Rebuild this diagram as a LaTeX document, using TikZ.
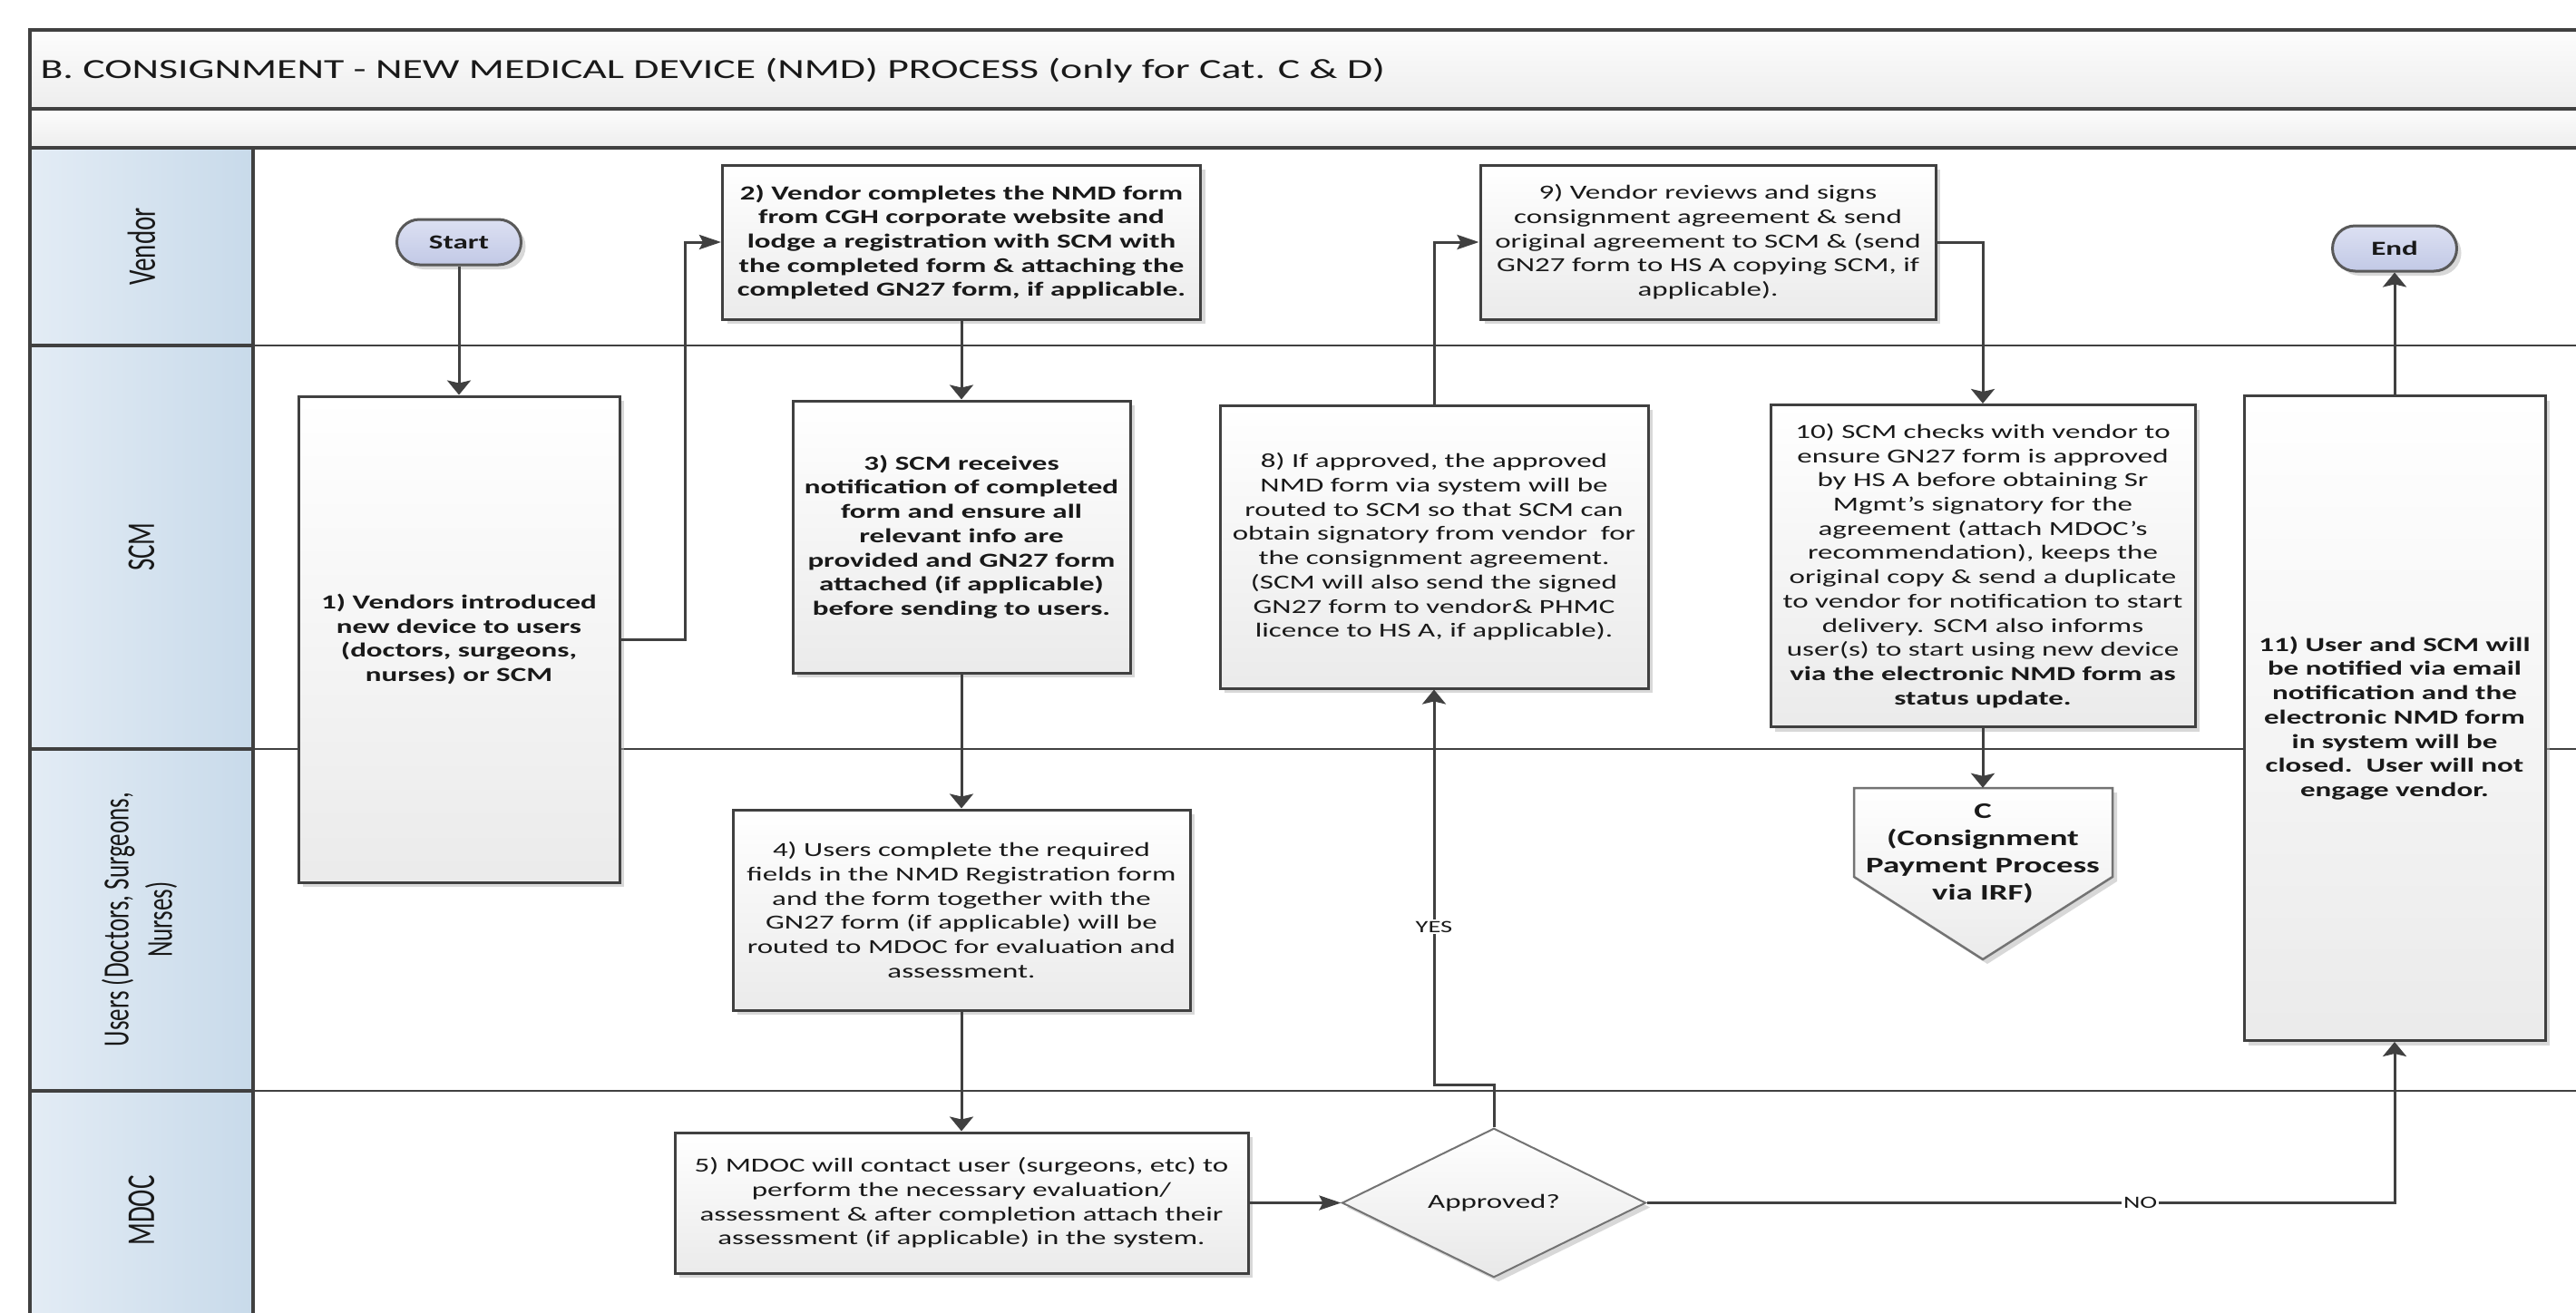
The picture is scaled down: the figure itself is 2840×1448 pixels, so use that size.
\documentclass[tikz,border=0pt]{standalone}
\usepackage{fontspec}
\setmainfont{Carlito}
\newfontfamily\visio[FakeStretch=1.5]{Carlito}
\usepackage{graphicx}
\usepackage{tikz}
\usetikzlibrary{positioning,shapes.geometric,shadows,arrows.meta}
\definecolor{edgegray}{HTML}{404040}
\definecolor{lanedark}{HTML}{C8DAEA}
\definecolor{lanelight}{HTML}{E3ECF5}
\definecolor{termtop}{HTML}{DCE0F2}
\definecolor{termbot}{HTML}{C2C9E6}
\tikzset{block/.style={draw=edgegray,line width=3pt,top color=white,bottom color=black!8,align=center,
           inner sep=4pt,text=black!90,font=\visio\fontsize{22}{26.7}\selectfont,
           drop shadow={shadow xshift=5pt,shadow yshift=-5pt,fill=black!30,opacity=.5}},
         boldblock/.style={block,font=\visio\bfseries\fontsize{22}{26.7}\selectfont},
         terminal/.style={draw=black!65,line width=3pt,rounded corners=25pt,top color=termtop,bottom color=termbot,
           minimum width=137pt,minimum height=50pt,text=black!90,font=\visio\bfseries\fontsize{22}{26}\selectfont,
           drop shadow={shadow xshift=5pt,shadow yshift=-5pt,fill=black!30,opacity=.5}},
         decision/.style={diamond,draw=black!55,line width=2pt,top color=white,bottom color=black!9,
           minimum width=335pt,minimum height=131pt,inner sep=0pt,text=black!90,
           font=\visio\fontsize{22}{26}\selectfont,
           drop shadow={shadow xshift=5pt,shadow yshift=-5pt,fill=black!30,opacity=.5}},
         lane/.style={rotate=90,align=center,text=black!90,font=\fontsize{29}{35}\selectfont},
         laneframe/.style={draw=edgegray,line width=3.5pt},
         laneline/.style={draw=edgegray,line width=2.5pt},
         flowtag/.style={fill=white,inner sep=2pt,text=black!90,font=\visio\fontsize{19}{22}\selectfont}
}
\tikzstyle{arrow} = [draw=edgegray,line width=3pt]
\tikzstyle{varrow} = [arrow,-{Stealth[length=16pt,width=26pt,inset=3pt]}]
\tikzstyle{harrow} = [arrow,-{Stealth[length=24pt,width=16pt,inset=4pt]}]

\begin{document}
\begin{tikzpicture}[x=1pt,y=-1pt]
\useasboundingbox (0,0) rectangle (2840,1448);

% header and swimlanes
\shade[top color=black!1,bottom color=black!7] (33,33) rectangle (2860,120);
\shade[top color=black!1,bottom color=black!7] (33,120) rectangle (2860,163);
\shade[left color=lanelight,right color=lanedark] (33,163) rectangle (279,1470);
\draw[laneframe] (33,1470) -- (33,33) -- (2860,33);
\draw[laneframe] (33,120) -- (2860,120);
\draw[laneframe] (33,163) -- (2860,163);
\draw[laneframe] (279,163) -- (279,1470);
\foreach \y in {381,826,1203} {
  \draw[laneframe] (33,\y) -- (279,\y);
  \draw[laneline] (279,\y) -- (2860,\y);
}

\node[anchor=west,text=black!90,font=\visio\fontsize{30.5}{36}\selectfont] (heading) at (41,78)
  {B. CONSIGNMENT - NEW MEDICAL DEVICE (NMD) PROCESS (only for Cat. C \& D)};

\node[lane] (lvendor) at (156,272) {\scalebox{1}[1.5]{Vendor}};
\node[lane] (lscm) at (156,603) {\scalebox{1}[1.5]{SCM}};
\node[lane,font=\fontsize{27}{32}\selectfont] (lusers) at (156,1014)
  {\scalebox{1}[1.5]{\begin{tabular}{@{}c@{}}Users (Doctors, Surgeons,\\Nurses)\end{tabular}}};
\node[lane] (lmdoc) at (156,1335) {\scalebox{1}[1.5]{MDOC}};

% process steps
\node[terminal] (start) at (506,267) {Start};
\node[boldblock,minimum width=354pt,minimum height=536pt] (vendorintro) at (506,705)
  {1) Vendors introduced\\new device to users\\(doctors, surgeons,\\nurses) or SCM};
\node[boldblock,minimum width=527pt,minimum height=170pt] (nmdform) at (1060,267)
  {2) Vendor completes the NMD form\\from CGH corporate website and\\lodge a registration with SCM with\\the completed form \& attaching the\\completed GN27 form, if applicable.};
\node[boldblock,minimum width=372pt,minimum height=300pt] (scmreceive) at (1060,592)
  {3) SCM receives\\notification of completed\\form and ensure all\\relevant info are\\provided and GN27 form\\attached (if applicable)\\before sending to users.};
\node[block,minimum width=504pt,minimum height=221pt,below=148pt of scmreceive] (userfill)
  {4) Users complete the required\\fields in the NMD Registration form\\and the form together with the\\GN27 form (if applicable) will be\\routed to MDOC for evaluation and\\assessment.};
\node[block,minimum width=632pt,minimum height=155pt,below=132pt of userfill] (mdoceval)
  {5) MDOC will contact user (surgeons, etc) to\\perform the necessary evaluation/\\assessment \& after completion attach their\\assessment (if applicable) in the system.};
\node[decision,right=101pt of mdoceval] (approved) {Approved?};
\node[block,minimum width=472pt,minimum height=312pt] (approvedroute) at (1581,603)
  {8) If approved, the approved\\NMD form via system will be\\routed to SCM so that SCM can\\obtain signatory from vendor\ \ for\\the consignment agreement.\\(SCM will also send the signed\\GN27 form to vendor\& PHMC\\licence to HS A, if applicable).};
\node[block,minimum width=502pt,minimum height=170pt] (vendorsign) at (1883,267)
  {9) Vendor reviews and signs\\consignment agreement \& send\\original agreement to SCM \& (send\\GN27 form to HS A copying SCM, if\\applicable).};
\node[block,minimum width=468pt,minimum height=355pt] (scmagree) at (2186,624)
  {10) SCM checks with vendor to\\ensure GN27 form is approved\\by HS A before obtaining Sr\\Mgmt’s signatory for the\\agreement (attach MDOC’s\\recommendation), keeps the\\original copy \& send a duplicate\\to vendor for notification to start\\delivery. SCM also informs\\user(s) to start using new device\\\textbf{via the electronic NMD form as}\\\textbf{status update.}};
\path[draw=black!55,line width=2.5pt,top color=white,bottom color=black!8,
      drop shadow={shadow xshift=5pt,shadow yshift=-5pt,fill=black!30,opacity=.5}]
  (2044,869) -- (2329,869) -- (2329,967) -- (2186,1058) -- (2044,967) -- cycle;
\node[align=center,minimum width=285pt,minimum height=144pt,text=black!90,
      font=\visio\bfseries\fontsize{24.5}{30}\selectfont] (payc) at (2186,941)
  {C\\(Consignment\\Payment Process\\via IRF)};
\node[boldblock,minimum width=332pt,minimum height=711pt] (closure) at (2640,792)
  {11) User and SCM will\\be notified via email\\notification and the\\electronic NMD form\\in system will be\\closed.\ \ User will not\\engage vendor.};
\node[terminal] (finish) at (2640,274) {End};

% connectors
\draw[varrow] (start) -- (vendorintro);
\draw[harrow] (vendorintro.east) -- ++(71,0) |- (nmdform.west);
\draw[varrow] (nmdform) -- (scmreceive);
\draw[varrow] (scmreceive) -- (userfill);
\draw[varrow] (userfill) -- (mdoceval);
\draw[harrow] (mdoceval.east) -- (approved.west);
\draw[varrow] (approved.north) -- ++(0,-47) -| node[flowtag,pos=0.7] {YES} (approvedroute.south);
\draw[harrow] (approvedroute.north) |- (vendorsign.west);
\draw[varrow] (vendorsign.east) -| (scmagree.north);
\draw[varrow] (scmagree) -- (payc);
\draw[varrow] (approved.east) -| node[flowtag,pos=0.33] {NO} (closure.south);
\draw[varrow] (closure) -- (finish);

\end{tikzpicture}
\end{document}
